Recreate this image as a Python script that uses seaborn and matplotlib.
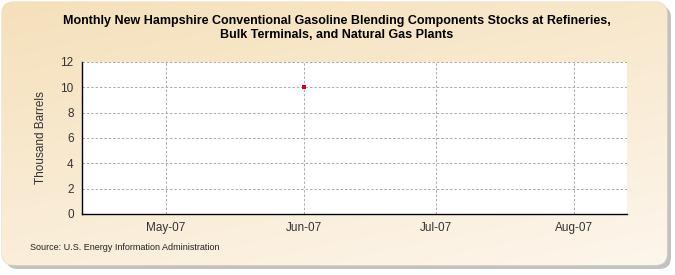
import matplotlib
matplotlib.use("Agg")
import matplotlib.pyplot as plt
from matplotlib.patches import FancyBboxPatch
import numpy as np
import pandas as pd
import seaborn as sns

# Data
months = ["2007-06-01"]
values = [10]
tick_months = ["2007-05-01", "2007-06-01", "2007-07-01", "2007-08-01"]
tick_labels = ["May-07", "Jun-07", "Jul-07", "Aug-07"]
title = ("Monthly New Hampshire Conventional Gasoline Blending Components Stocks at Refineries,\n"
         "Bulk Terminals, and Natural Gas Plants")
ylabel = "Thousand Barrels"
source = "Source: U.S. Energy Information Administration"

sns.set_style("white")
plt.rcParams['font.family'] = ['Liberation Sans', 'DejaVu Sans']

W, H = 675, 275
fig = plt.figure(figsize=(W / 100, H / 100), dpi=100)
fig.patch.set_facecolor("white")

# Background with rounded border, shadow and gradient
bg = fig.add_axes([0, 0, 1, 1], zorder=-10)
bg.set_xlim(0, W)
bg.set_ylim(H, 0)
bg.axis("off")
shadow = FancyBboxPatch((6, 6), W - 10, H - 12, boxstyle="round,pad=0,rounding_size=12",
                        facecolor="#9a9a9a", edgecolor="none", alpha=0.6)
bg.add_patch(shadow)
box = FancyBboxPatch((2, 2), W - 10, H - 12, boxstyle="round,pad=0,rounding_size=12",
                     facecolor="none", edgecolor="#e8d8c0", linewidth=0.8)
bg.add_patch(box)
yy, xx = np.mgrid[0:1:200j, 0:1:300j]
t = np.clip(0.65 * yy + 0.35 * xx, 0, 1)
c0 = np.array([245, 224, 186]) / 255
c1 = np.array([253, 246, 236]) / 255
img = c0[None, None, :] * (1 - t[..., None]) + c1[None, None, :] * t[..., None]
im = bg.imshow(img, extent=(2, W - 8, H - 10, 2), aspect="auto", zorder=1)
clip = FancyBboxPatch((2, 2), W - 10, H - 12, boxstyle="round,pad=0,rounding_size=12",
                      transform=bg.transData, facecolor="none", edgecolor="none")
bg.add_patch(clip)
im.set_clip_path(clip)

# Main axes
ax = fig.add_axes([82 / W, 1 - 214 / H, (627 - 82) / W, (214 - 62) / H])
ax.set_facecolor("white")
df = pd.DataFrame({"date": pd.to_datetime(months), "value": values})
sns.scatterplot(data=df, x="date", y="value", ax=ax, marker="s", s=11,
                color="#cc0022", edgecolor="#cc0022", linewidth=0, zorder=5)

ax.set_ylim(0, 12)
ax.set_yticks(np.arange(0, 13, 2))
ax.set_xlim(pd.Timestamp("2007-04-12"), pd.Timestamp("2007-08-13"))
ax.set_xticks(pd.to_datetime(tick_months))
ax.set_xticklabels(tick_labels)
ax.grid(True, linestyle=(0, (2.5, 2)), color="#aaaaaa", linewidth=0.7)
ax.set_axisbelow(True)
for s in ["top", "right"]:
    ax.spines[s].set_visible(False)
for s in ["left", "bottom"]:
    ax.spines[s].set_color("black")
    ax.spines[s].set_linewidth(1.0)
ax.tick_params(axis="both", which="both", length=4, width=0.8, color="black",
               labelsize=8.5, labelcolor="#333333", direction="out", pad=2)
ax.tick_params(axis="x", length=0, pad=6)
ax.set_xlabel("")
ax.set_ylabel(ylabel, fontsize=8.5, color="#333333", labelpad=10)

fig.text(337 / W, 1 - 28 / H, title, ha="center", va="center", fontsize=9,
         fontweight="bold", color="black", linespacing=1.25)
fig.text(30 / W, 1 - 247 / H, source, ha="left", va="center", fontsize=6.5, color="#222222")

fig.savefig("out.png", dpi=100)
